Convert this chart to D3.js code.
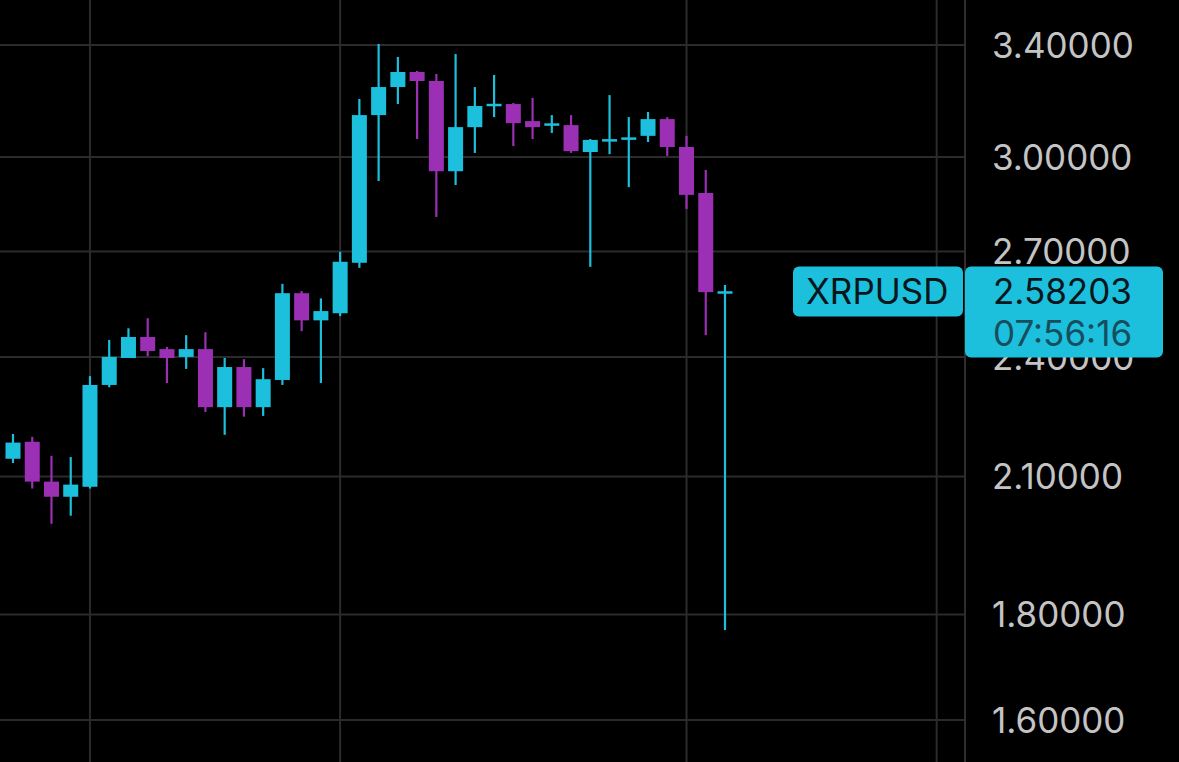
<!DOCTYPE html>
<html>
<head>
<meta charset="utf-8">
<script src="https://cdn.jsdelivr.net/npm/d3@7"></script>
<style>
  html, body { margin: 0; padding: 0; background: #000; }
  svg { display: block; }
</style>
</head>
<body>
<svg id="chart" width="1179" height="762"></svg>
<script>
// ---- data ----
const opens  = [2.142, 2.183, 2.088, 2.053, 2.076, 2.326, 2.397, 2.454, 2.421, 2.400,
                2.421, 2.269, 2.373, 2.269, 2.339, 2.577, 2.500, 2.520, 2.666, 3.144,
                3.244, 3.299, 3.266, 2.953, 3.102, 3.177, 3.183, 3.123, 3.109, 3.109,
                3.017, 3.055, 3.061, 3.072, 3.130, 3.034, 2.882, 2.576];
const highs  = [2.202, 2.195, 2.149, 2.146, 2.349, 2.446, 2.478, 2.506, 2.427, 2.459,
                2.467, 2.397, 2.394, 2.370, 2.604, 2.583, 2.562, 2.699, 3.201, 3.404,
                3.355, 3.303, 3.292, 3.366, 3.244, 3.288, 3.187, 3.205, 3.144, 3.144,
                3.061, 3.215, 3.137, 3.155, 3.137, 3.072, 2.957, 2.601];
const lows   = [2.132, 2.072, 1.992, 2.010, 2.072, 2.320, 2.397, 2.402, 2.331, 2.368,
                2.257, 2.200, 2.245, 2.247, 2.326, 2.470, 2.331, 2.512, 2.651, 2.921,
                3.183, 3.061, 2.806, 2.908, 3.014, 3.137, 3.037, 3.061, 3.082, 3.014,
                2.654, 3.010, 2.901, 3.051, 3.004, 2.831, 2.459, 1.769];
const closes = [2.181, 2.088, 2.053, 2.081, 2.326, 2.400, 2.454, 2.416, 2.397, 2.421,
                2.269, 2.373, 2.269, 2.341, 2.577, 2.500, 2.526, 2.669, 3.144, 3.244,
                3.299, 3.266, 2.953, 3.102, 3.176, 3.182, 3.116, 3.102, 3.113, 3.020,
                3.058, 3.058, 3.064, 3.130, 3.034, 2.876, 2.580, 2.58203];
const yTicks = [3.4, 3.0, 2.7, 2.4, 2.1, 1.8, 1.6];
const timeGridIndices = [4, 17, 35, 48];
const symbol = "XRPUSD";
const lastPrice = 2.58203;
const countdown = "07:56:16";

// ---- layout ----
const W = 1179, H = 762;
const plotRight = 965;
const upColor = "#1cc0dc", downColor = "#9b30b4";
const gridColor = "#2b2b2b";

const svg = d3.select("#chart");
svg.append("rect").attr("width", W).attr("height", H).attr("fill", "#000");

const x = d3.scaleLinear().domain([0, 37]).range([13, 725]);
const y = d3.scaleLog().domain([1.6, 3.4]).range([720, 45]);

// horizontal grid
svg.append("g").selectAll("line").data(yTicks).join("line")
  .attr("x1", 0).attr("x2", plotRight)
  .attr("y1", d => y(d)).attr("y2", d => y(d))
  .attr("stroke", gridColor).attr("stroke-width", 2);

// vertical grid
svg.append("g").selectAll("line").data(timeGridIndices).join("line")
  .attr("x1", d => x(d)).attr("x2", d => x(d))
  .attr("y1", 0).attr("y2", H)
  .attr("stroke", gridColor).attr("stroke-width", 2);

// axis border
svg.append("line").attr("x1", plotRight).attr("x2", plotRight)
  .attr("y1", 0).attr("y2", H).attr("stroke", "#2e2e2e").attr("stroke-width", 2);

// candles
const idx = d3.range(closes.length);
const bodyW = 15;
const cg = svg.append("g");
cg.selectAll("line.wick").data(idx).join("line").attr("class", "wick")
  .attr("x1", i => x(i)).attr("x2", i => x(i))
  .attr("y1", i => y(highs[i])).attr("y2", i => y(lows[i]))
  .attr("stroke", i => closes[i] >= opens[i] ? upColor : downColor)
  .attr("stroke-width", 2.2);
cg.selectAll("rect.body").data(idx).join("rect").attr("class", "body")
  .attr("x", i => x(i) - bodyW / 2)
  .attr("width", bodyW)
  .attr("y", i => {
    const top = y(Math.max(opens[i], closes[i])), bot = y(Math.min(opens[i], closes[i]));
    return bot - top < 2.5 ? (top + bot) / 2 - 1.25 : top;
  })
  .attr("height", i => Math.max(2.5, y(Math.min(opens[i], closes[i])) - y(Math.max(opens[i], closes[i]))))
  .attr("fill", i => closes[i] >= opens[i] ? upColor : downColor);

// y axis labels
const fmt = d3.format(".5f");
svg.append("g").selectAll("text").data(yTicks).join("text")
  .attr("x", 992).attr("y", d => y(d))
  .attr("dy", "0.36em")
  .attr("fill", "#c4c4c4")
  .attr("font-family", "Inter, 'Noto Sans', sans-serif")
  .attr("font-size", 35)
  .text(d => fmt(d));

// symbol label
const py = y(lastPrice);
svg.append("rect").attr("x", 793).attr("y", py - 25).attr("width", 170).attr("height", 50)
  .attr("rx", 6).attr("fill", upColor);
svg.append("text").attr("x", 806).attr("y", py).attr("dy", "0.36em")
  .attr("fill", "#07161b").attr("font-family", "Inter, 'Noto Sans', sans-serif")
  .attr("font-size", 35).text(symbol);

// price box
svg.append("rect").attr("x", 965).attr("y", py - 25).attr("width", 198).attr("height", 91)
  .attr("rx", 6).attr("fill", upColor);
svg.append("text").attr("x", 993).attr("y", py).attr("dy", "0.36em")
  .attr("fill", "#07161b").attr("font-family", "Inter, 'Noto Sans', sans-serif")
  .attr("font-size", 35).text(fmt(lastPrice));
svg.append("text").attr("x", 993).attr("y", py + 42).attr("dy", "0.36em")
  .attr("fill", "#174d5c").attr("font-family", "Inter, 'Noto Sans', sans-serif")
  .attr("font-size", 35).text(countdown);
</script>
</body>
</html>
